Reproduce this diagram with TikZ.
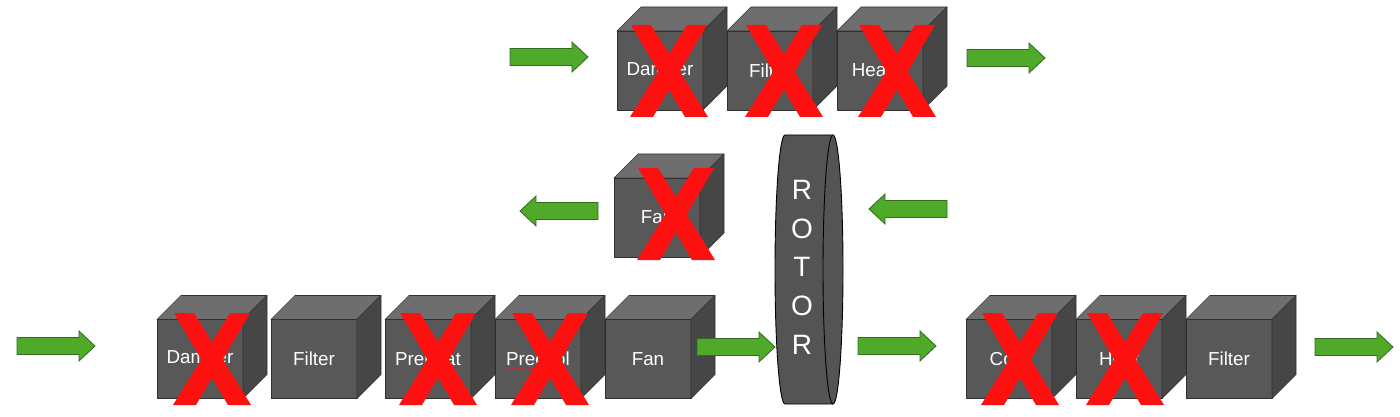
\documentclass[tikz,border=0pt]{standalone}
\usepackage{fontspec}
\setmainfont{Liberation Sans}
\definecolor{cfront}{RGB}{88,88,88}
\definecolor{ctop}{RGB}{110,110,110}
\definecolor{cside}{RGB}{70,70,70}
\definecolor{cedge}{RGB}{48,48,48}
\definecolor{xred}{RGB}{252,16,16}
\definecolor{agreen}{RGB}{78,170,40}
\definecolor{agreenedge}{RGB}{52,105,36}
\definecolor{rotorfill}{RGB}{84,84,84}
\newcommand\drawcube[4]{%
  \node[cubefront] (#1) at (#2,#3) {#4};
  \filldraw[cubeface, fill=ctop] (#1.north west) -- ++(24,-24) -- ++(86,0) -- (#1.north east) -- cycle;
  \filldraw[cubeface, fill=cside] (#1.north east) -- ++(24,-24) -- ++(0,79) -- (#1.south east) -- cycle;
}
\begin{document}
\begin{tikzpicture}[x=1pt,y=-1pt,
  cubeface/.style={draw=cedge, line width=0.6pt, line join=round},
  cubefront/.style={cubeface, fill=cfront, minimum width=86pt, minimum height=79pt, inner sep=0pt, outer sep=0pt, text=white, font=\fontsize{18.8}{20}\selectfont},
  arrowstyle/.style={fill=agreen, draw=agreenedge, line width=0.8pt, line join=miter},
  crossmark/.pic={
    \fill[xred] (-38,-46) -- (-18,-46) -- (39,46) -- (16,46) -- cycle;
    \fill[xred] (38,-46) -- (18,-46) -- (-39,46) -- (-16,46) -- cycle;
  },
  blockarrow/.pic={
    \draw[arrowstyle] (0,-8.5) -- (62,-8.5) -- (62,-15) -- (78,0) -- (62,15) -- (62,8.5) -- (0,8.5) -- cycle;
  },
  rotorbody/.style={fill=rotorfill, draw=black, line width=0.9pt},
  rotortext/.style={text=white, align=center, inner sep=0pt, outer sep=0pt, font=\fontsize{28}{38.75}\selectfont}
]
\useasboundingbox (0,0) rectangle (1400,417);

% top row
\drawcube{tdamper}{660}{70.5}{Damper}
\drawcube{tfilter}{770}{70.5}{Filter}
\drawcube{theater}{880}{70.5}{Heater}

% middle fan
\drawcube{mfan}{657}{217.5}{Fan}

% bottom row
\drawcube{bdamper}{200}{359}{Damper}
\drawcube{bfilter}{314}{359}{Filter}
\drawcube{bpreheat}{428}{359}{Preheat}
\drawcube{bprecool}{538}{359}{Precool}
\drawcube{bfan}{648}{359}{Fan}
\drawcube{bcool}{1009}{359}{Cool}
\drawcube{bheat}{1119}{359}{Heat}
\drawcube{bfilter2}{1229}{359}{Filter}

% spell-check underline
\draw[xred, dotted, line width=1.3pt] (505,369) -- (535,369);

% rotor
\filldraw[rotorbody] (833,135) -- (785,135) arc[start angle=-90, end angle=-270, x radius=10, y radius=134.5] -- (833,404);
\filldraw[rotorbody] (833,269.5) ellipse [x radius=10, y radius=134.5];
\node[rotortext, anchor=north] (rotor) at (802,180) {R\\O\\T\\O\\R};

% arrows
\pic at (510,57) {blockarrow};
\pic at (967,58) {blockarrow};
\pic[rotate=180] at (598,211) {blockarrow};
\pic[rotate=180] at (947,209) {blockarrow};
\pic at (17,346) {blockarrow};
\pic at (697,347) {blockarrow};
\pic at (858,346) {blockarrow};
\pic at (1315,347) {blockarrow};

% crosses
\pic at (669,71) {crossmark};
\pic at (784,71) {crossmark};
\pic at (897,71) {crossmark};
\pic at (676,214) {crossmark};
\pic at (212,359) {crossmark};
\pic at (438,359) {crossmark};
\pic at (550,359) {crossmark};
\pic at (1020,359) {crossmark};
\pic at (1125,359) {crossmark};
\end{tikzpicture}
\end{document}
